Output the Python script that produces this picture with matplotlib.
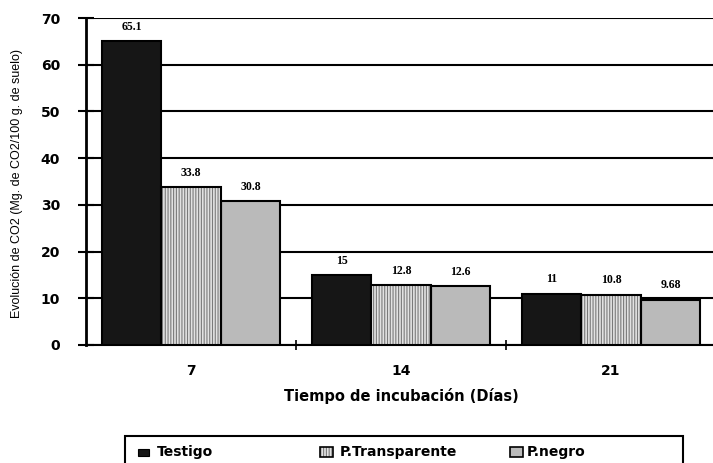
import matplotlib
matplotlib.use("Agg")
import matplotlib.pyplot as plt
from matplotlib.patches import Rectangle
import numpy as np

# Data: CO2 evolution per incubation time
dias = ["7", "14", "21"]
testigo = [65.1, 15, 11]
transparente = [33.8, 12.8, 10.8]
negro = [30.8, 12.6, 9.68]
series_names = ["Testigo", "P.Transparente", "P.negro"]
y_ticks = [0, 10, 20, 30, 40, 50, 60, 70]

W, H = 713, 463
fig = plt.figure(figsize=(W / 100, H / 100), dpi=100)
fig.patch.set_facecolor("white")

# axes in pixel layout
left, right, top, bottom = 86, 716, 18, 345
ax = fig.add_axes([left / W, (H - bottom) / H, (right - left) / W, (bottom - top) / H])

x = np.arange(len(dias))
bw = 0.283
bold_font = "DejaVu Sans"
dark_c, stripe_bg, stripe_c, gray_c = "#161616", "#e2e2e2", "#7a7a7a", "#bababa"

# background grid lines, bars drawn on top
ax.set_axisbelow(True)
ax.yaxis.grid(True, color="black", linewidth=1.5)
plt.rcParams["hatch.linewidth"] = 0.8

def draw_bars(vals, offset, style):
    xs = x + offset
    if style == "dark":
        ax.bar(xs, vals, bw, color=dark_c, edgecolor="black", linewidth=1.5, zorder=3)
    elif style == "lines":
        ax.bar(xs, vals, bw, color=stripe_bg, edgecolor=stripe_c, hatch="||||||",
               linewidth=0, zorder=3)
        ax.bar(xs, vals, bw, fill=False, edgecolor="black", linewidth=1.5, zorder=4)
    else:
        ax.bar(xs, vals, bw, color=gray_c, edgecolor="black", linewidth=1.5, zorder=3)
    for xi, v in zip(xs, vals):
        ax.annotate(f"{v:g}", (xi, v), xytext=(0, 6), textcoords="offset points",
                    ha="center", va="bottom", fontsize=8.5, fontweight="bold",
                    family="Liberation Serif")

draw_bars(testigo, -bw, "dark")
draw_bars(transparente, 0, "lines")
draw_bars(negro, bw, "gray")

ax.set_xlim(-0.5, len(dias) - 0.5)
ax.set_ylim(0, 70)
ax.set_yticks(y_ticks)
ax.set_yticklabels([str(t) for t in y_ticks], fontsize=10, fontweight="bold", family=bold_font)
ax.tick_params(axis="y", direction="inout", length=11.5, width=1.5, pad=13)

ax.set_xticks(x)
ax.set_xticklabels(dias, fontsize=10, fontweight="bold", family=bold_font)
ax.tick_params(axis="x", which="major", length=0, pad=14)
ax.set_xticks(x[:-1] + 0.5, minor=True)
ax.tick_params(axis="x", which="minor", direction="inout", length=7, width=1.2)

for s in ["top", "right"]:
    ax.spines[s].set_visible(False)
ax.spines["left"].set_linewidth(2)
ax.spines["bottom"].set_linewidth(1.5)

# axis titles
fig.text(401 / W, (H - 396) / H, "Tiempo de incubación (Días)", ha="center", va="center",
         fontsize=10.5, fontweight="bold", family=bold_font)
fig.text(17 / W, (H - 183) / H, "Evolución de CO2 (Mg. de CO2/100 g. de suelo)",
         rotation=90, ha="center", va="center", fontsize=9, family="Liberation Sans")

# legend box
fig.patches.append(Rectangle((125 / W, -20 / H), 558 / W, (H - 436 + 20) / H,
                             transform=fig.transFigure, fill=False,
                             edgecolor="black", linewidth=1.5))
ly = (H - 452) / H
fig.patches.append(Rectangle((138 / W, (H - 456) / H), 11 / W, 7 / H, transform=fig.transFigure,
                             facecolor=dark_c, edgecolor="black", linewidth=0.8))
fig.patches.append(Rectangle((320 / W, (H - 457) / H), 13 / W, 10 / H, transform=fig.transFigure,
                             facecolor=stripe_bg, edgecolor=stripe_c, hatch="||||||", linewidth=0))
fig.patches.append(Rectangle((320 / W, (H - 457) / H), 13 / W, 10 / H, transform=fig.transFigure,
                             fill=False, edgecolor="black", linewidth=1.2))
fig.patches.append(Rectangle((510 / W, (H - 457) / H), 13 / W, 10 / H, transform=fig.transFigure,
                             facecolor=gray_c, edgecolor="black", linewidth=1.2))
for xpix, name in zip([157, 340, 527], series_names):
    fig.text(xpix / W, ly, name, ha="left", va="center", fontsize=10,
             fontweight="bold", family=bold_font)

fig.savefig("out.png", dpi=100)
